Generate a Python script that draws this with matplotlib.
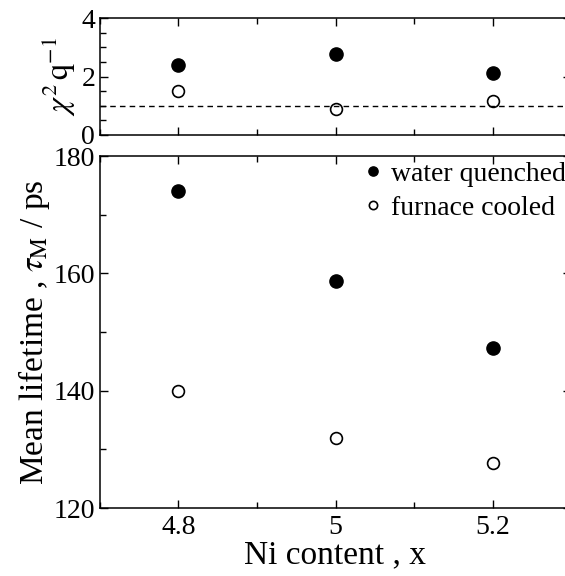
import matplotlib
matplotlib.use("Agg")
import matplotlib.pyplot as plt
from matplotlib.ticker import MultipleLocator

plt.rcParams['font.family'] = ['Liberation Serif', 'DejaVu Serif']
plt.rcParams['mathtext.fontset'] = 'stix'

ni = [4.8, 5.0, 5.2]
tau_wq = [174.0, 158.7, 147.2]
tau_fc = [140.0, 132.0, 127.6]
chi_wq = [2.39, 2.77, 2.12]
chi_fc = [1.5, 0.89, 1.16]
chi_ref = 1.0
xticks = [4.8, 5.0, 5.2]
xticklabels = ['4.8', '5', '5.2']

W, H = 565, 576
fig = plt.figure(figsize=(W/100, H/100), dpi=100)
L = 100/W; R = 571/W
ax1 = fig.add_axes([L, 1-135/H, R-L, (135-18)/H])
ax2 = fig.add_axes([L, 1-508/H, R-L, (508-156)/H])

def style(ax):
    for s in ax.spines.values():
        s.set_linewidth(1.1)
    ax.tick_params(which='both', direction='in', top=True, right=True, width=1.0, labelsize=20)
    ax.tick_params(axis='x', pad=5)
    ax.tick_params(axis='y', pad=3.5)
    ax.tick_params(which='major', length=6)
    ax.tick_params(which='minor', length=4)
    ax.set_xlim(4.7, 5.3)
    ax.set_xticks(xticks)
    ax.xaxis.set_minor_locator(MultipleLocator(0.1))

style(ax1)
style(ax2)

ms = 9.5
ax1.plot(ni, chi_wq, 'o', color='black', ms=ms, ls='none')
ax1.plot(ni, chi_fc, 'o', mfc='white', mec='black', mew=1.2, ms=ms-1, ls='none')
ax1.axhline(chi_ref, color='black', ls=(0, (4, 3)), lw=1.0)
ax1.set_ylim(0, 4)
ax1.set_yticks([0, 2, 4])
ax1.yaxis.set_minor_locator(MultipleLocator(0.5))
ax1.set_xticklabels([])
ax1.set_ylabel(r'$\chi^{2}\,\mathrm{q}^{-1}$', fontsize=23, labelpad=2)

ax2.plot(ni, tau_wq, 'o', color='black', ms=ms, ls='none', label='water quenched')
ax2.plot(ni, tau_fc, 'o', mfc='white', mec='black', mew=1.2, ms=ms-1, ls='none', label='furnace cooled')
ax2.set_ylim(120, 180)
ax2.set_yticks([120, 140, 160, 180])
ax2.yaxis.set_minor_locator(MultipleLocator(10))
ax2.set_xticklabels(xticklabels)
ax2.set_xlabel('Ni content , x', fontsize=24, labelpad=0)
ax2.set_ylabel(r'Mean lifetime , $\tau_{\mathrm{M}}$ / ps', fontsize=24, labelpad=1)
ax2.legend(loc='upper left', bbox_to_anchor=(0.565, 0.985), frameon=False, fontsize=20,
           handlelength=0.5, handletextpad=0.4, borderpad=0, borderaxespad=0,
           labelspacing=0.3, markerscale=0.7)

fig.savefig('out.png', dpi=100)
